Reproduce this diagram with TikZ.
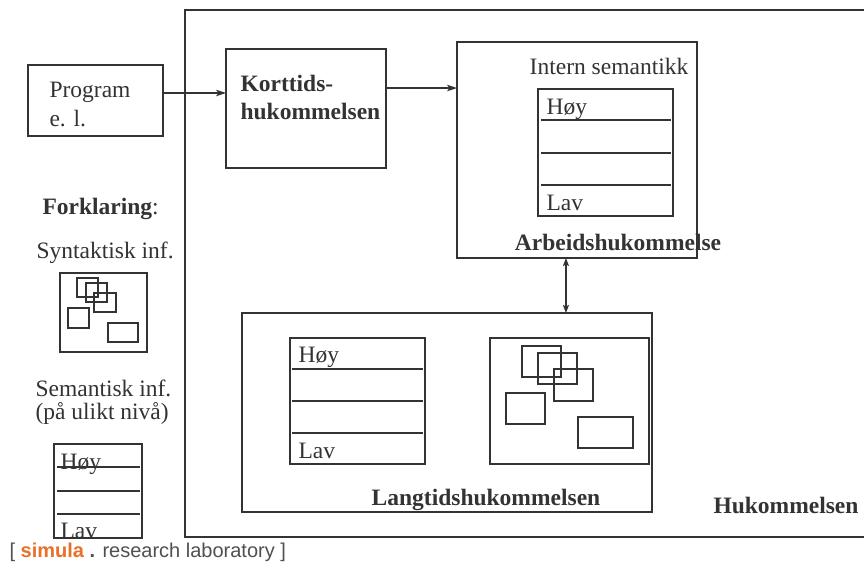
\documentclass[tikz,border=0pt]{standalone}
\usepackage{fontspec}
\setmainfont{Liberation Serif}
\newfontfamily\logofont{Liberation Sans}
\usetikzlibrary{arrows.meta,calc}
\definecolor{ink}{HTML}{333333}
\definecolor{simorange}{HTML}{E8702A}
\definecolor{loggray}{HTML}{505050}
\begin{document}
\begin{tikzpicture}[x=1pt,y=-1pt,line width=1.1pt,
  box/.style={draw=ink,line width=1.1pt,inner sep=0pt,outer sep=0pt,anchor=north west},
  lbl/.style={anchor=base west,inner sep=0pt,text=ink,font=\fontsize{23.5}{28}\selectfont},
  blbl/.style={lbl,font=\fontsize{23.5}{28}\selectfont\bfseries},
  sep/.style={draw=ink,line width=1.1pt},
  arr/.style={draw=ink,line width=1.1pt,-{Stealth[length=10pt,width=6.5pt,inset=2.5pt]}},
  darr/.style={draw=ink,line width=1.1pt,{Stealth[length=8pt,width=6pt,inset=1.5pt]}-{Stealth[length=8pt,width=6pt,inset=1.5pt]}}]
\useasboundingbox (0,0) rectangle (864,568);
\fill[white] (0,0) rectangle (864,568);

% outer memory box (right side beyond the picture)
\draw[sep] (864,10) -- (185,10) -- (185,537) -- (864,537);
\node[blbl] (hukom) at (713,513) {Hukommelsen};

% Program box
\node[box,minimum width=135,minimum height=71] (prog) at (28,65) {};
\node[lbl] (progt1) at (49,97) {Program};
\node[lbl] (progt2) at (49,126) {e. l.};

% Korttidshukommelsen
\node[box,minimum width=160,minimum height=119] (kort) at (226,49) {};
\node[blbl] (kortt1) at (240,91) {Korttids-};
\node[blbl] (kortt2) at (240,119) {hukommelsen};

% Arbeidshukommelse
\node[box,minimum width=240,minimum height=216] (arb) at (457,42) {};
\node[lbl,anchor=base] (intern) at (609,74) {Intern semantikk};
\node[box,minimum width=135,minimum height=127] (alist) at (538,89) {};
\draw[sep] (541,120) -- (671,120);
\draw[sep] (541,153) -- (671,153);
\draw[sep] (541,185) -- (671,185);
\node[lbl] (ahoy) at (546,114) {Høy};
\node[lbl] (alav) at (546,210) {Lav};
\node[blbl,anchor=base] (arbt) at (618,250) {Arbeidshukommelse};

% Langtidshukommelsen
\node[box,minimum width=410,minimum height=199] (lang) at (242,313) {};
\node[box,minimum width=135,minimum height=126] (llist) at (290,338) {};
\draw[sep] (292,369) -- (423,369);
\draw[sep] (292,401) -- (423,401);
\draw[sep] (292,433) -- (423,433);
\node[lbl] (lhoy) at (298,362) {Høy};
\node[lbl] (llav) at (298,458) {Lav};
\node[box,minimum width=159,minimum height=126] (lsyn) at (490,338) {};
\draw[sep] (522,346) rectangle (561,377);
\draw[sep] (538,353) rectangle (577,384);
\draw[sep] (554,369) rectangle (593,401);
\draw[sep] (506,393) rectangle (545,424);
\draw[sep] (578,417) rectangle (633,448);
\node[blbl,anchor=base] (langt) at (486,505) {Langtidshukommelsen};

% connectors
\coordinate (p1) at ($(prog.north east)!0.394!(prog.south east)$);
\draw[arr] (p1) -- (kort.west |- p1);
\coordinate (k1) at ($(kort.north east)!0.328!(kort.south east)$);
\draw[arr] (k1) -- (arb.west |- k1);
\coordinate (a1) at ($(arb.south west)!0.454!(arb.south east)$);
\draw[darr] (a1) -- (lang.north -| a1);

% legend
\node[lbl] (fork) at (42,214) {\textbf{Forklaring}:};
\node[lbl] (synt) at (36,258) {Syntaktisk inf.};
\node[box,minimum width=87,minimum height=79] (gsyn) at (60,273) {};
\draw[sep] (77,278) rectangle (98,297);
\draw[sep] (86,283) rectangle (107,302);
\draw[sep] (94,293) rectangle (116,312);
\draw[sep] (68,308) rectangle (89,328);
\draw[sep] (108,323) rectangle (138,342);
\node[lbl] (sem1) at (35,396) {Semantisk inf.};
\node[lbl] (sem2) at (35,419) {(på ulikt nivå)};
\node[box,minimum width=88,minimum height=94] (glist) at (54,444) {};
\draw[sep] (57,467) -- (140,467);
\draw[sep] (57,491) -- (140,491);
\draw[sep] (57,514) -- (140,514);
\node[lbl] (ghoy) at (60,469) {Høy};
\node[lbl] (glav) at (60,538) {Lav};

% logo
\node[anchor=base west,inner sep=0pt,text=loggray,font=\logofont\fontsize{20}{22}\selectfont] (logo) at (9,557) {[ \textcolor{simorange}{\bfseries simula} \textbf{.} research laboratory ]};
\end{tikzpicture}
\end{document}
